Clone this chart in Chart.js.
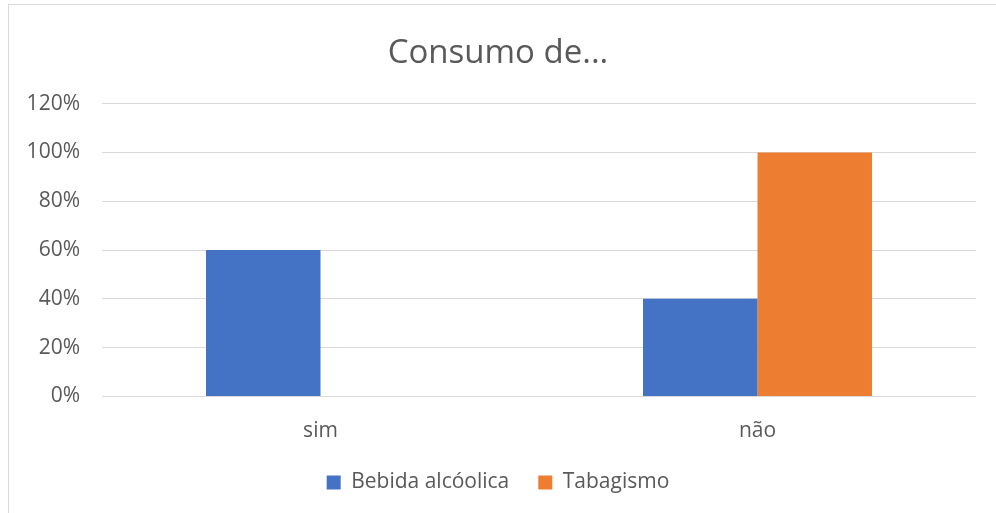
<!DOCTYPE html>
<html>
<head>
<meta charset="utf-8">
<script src="https://cdn.jsdelivr.net/npm/chart.js@4/dist/chart.umd.min.js"></script>
<style>
  html, body { margin: 0; padding: 0; background: #fff; }
  #frame {
    position: absolute; left: 8px; top: 4px; width: 1000px; height: 520px;
    border: 1px solid #d9d9d9; box-sizing: border-box;
  }
  #wrap { position: absolute; left: 0; top: 0; width: 996px; height: 513px; }
</style>
</head>
<body>
<div id="frame"></div>
<div id="wrap"><canvas id="chart"></canvas></div>
<script>
const categories = ["sim", "não"];
const bebida = [60, 40];
const tabagismo = [0, 100];
const seriesNames = ["Bebida alcóolica", "Tabagismo"];

const textColor = "#595959";
const fontFamily = "'Open Sans', 'Noto Sans', sans-serif";

new Chart(document.getElementById("chart"), {
  type: "bar",
  data: {
    labels: categories,
    datasets: [
      { label: seriesNames[0], data: bebida, backgroundColor: "#4472C4" },
      { label: seriesNames[1], data: tabagismo, backgroundColor: "#ED7D31" }
    ]
  },
  options: {
    responsive: true,
    maintainAspectRatio: false,
    animation: false,
    categoryPercentage: 0.524,
    barPercentage: 1,
    layout: { padding: { left: 20, right: 20, top: 0, bottom: 10 } },
    plugins: {
      title: {
        display: true,
        text: "Consumo de...",
        color: textColor,
        font: { family: fontFamily, size: 33, weight: "normal" },
        padding: { top: 34, bottom: 30 }
      },
      legend: {
        position: "bottom",
        labels: {
          color: textColor,
          font: { family: fontFamily, size: 21 },
          boxWidth: 14,
          boxHeight: 14,
          padding: 29
        }
      },
      tooltip: { enabled: false }
    },
    scales: {
      x: {
        grid: { display: false, drawTicks: false },
        border: { display: false },
        ticks: { color: textColor, font: { family: fontFamily, size: 21 }, padding: 21.5 },
        afterFit: s => { s.height = 46.5; }
      },
      y: {
        min: 0,
        max: 120,
        grid: { color: "#d9d9d9", lineWidth: 1, drawTicks: false },
        border: { display: false },
        ticks: {
          stepSize: 20,
          color: textColor,
          font: { family: fontFamily, size: 21 },
          padding: 22,
          callback: v => v + "%"
        },
        afterFit: s => { s.width = 82; }
      }
    }
  }
});
</script>
</body>
</html>
